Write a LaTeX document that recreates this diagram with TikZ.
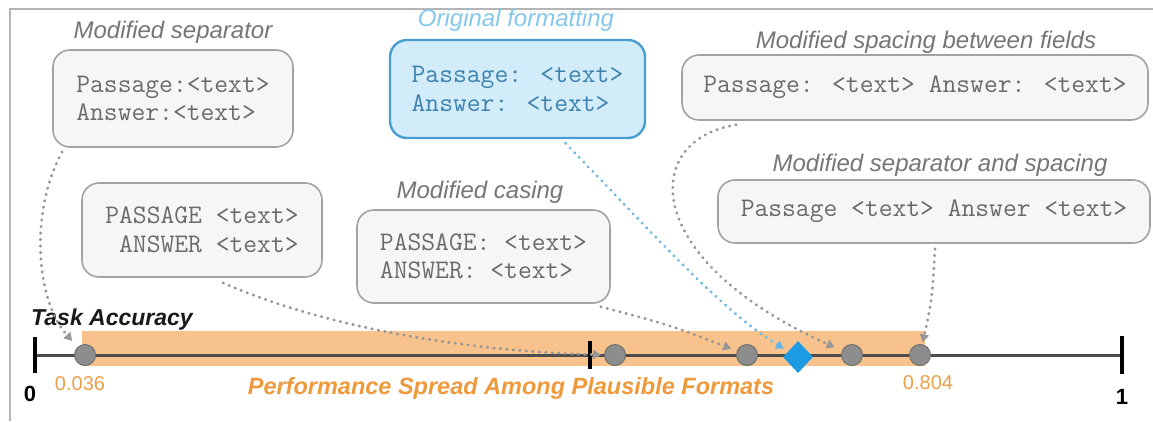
\documentclass[tikz,border=0pt]{standalone}
\usepackage{fontspec}
\setmainfont{Liberation Sans}
\usetikzlibrary{arrows.meta,shapes.geometric,calc}

\definecolor{boxfill}{HTML}{F6F6F7}
\definecolor{boxline}{HTML}{A3A3A3}
\definecolor{monotext}{HTML}{6A6A6A}
\definecolor{captext}{HTML}{767676}
\definecolor{origfill}{HTML}{D3ECF9}
\definecolor{origline}{HTML}{4A9DD0}
\definecolor{origtext}{HTML}{3D82AE}
\definecolor{origcap}{HTML}{86C8EC}
\definecolor{band}{HTML}{F7C28B}
\definecolor{orangetext}{HTML}{EBA04A}
\definecolor{orangelabel}{HTML}{EE9A3C}
\definecolor{dotgray}{HTML}{979797}
\definecolor{dotblue}{HTML}{6FB9E0}
\definecolor{pointfill}{HTML}{8D8D8D}
\definecolor{pointline}{HTML}{707070}
\definecolor{diamondblue}{HTML}{1C9BE2}
\definecolor{axisgray}{HTML}{4D4D4D}
\definecolor{framegray}{HTML}{B4B4B4}

\begin{document}
\begin{tikzpicture}[x=1pt,y=-1pt,
  fmtbox/.style={draw=boxline, line width=1.6pt, fill=boxfill, rounded corners=17pt,
    inner sep=0pt, font=\ttfamily\fontsize{26.8}{28.5}\selectfont, text=monotext, align=left},
  origstyle/.style={fmtbox, draw=origline, line width=2.4pt, fill=origfill, text=origtext},
  caption/.style={font=\itshape\fontsize{24}{28}\selectfont, text=captext, inner sep=0pt},
  pt/.style={circle, fill=pointfill, draw=pointline, line width=1pt, minimum size=21pt, inner sep=0pt},
  conn/.style={draw=dotgray, line width=2.9pt, line cap=round, dash pattern=on 0.5pt off 6pt,
    -{Triangle[length=8pt,width=9pt,fill=dotgray]}},
  connblue/.style={conn, draw=dotblue, -{Triangle[length=8pt,width=9pt,fill=diamondblue]}},
  tickmark/.style={draw=black, line width=3.5pt}
]
% canvas and frame
\fill[white] (0,0) rectangle (1153,421);
\useasboundingbox (0,0) rectangle (1153,421);
\draw[framegray, line width=1.5pt] (10,421) -- (10,9) -- (1153,9);

% format boxes and their captions
\node[fmtbox, minimum width=240pt, minimum height=97pt] (sepbox) at (173,98.5)
  {Passage:<text>\\Answer:<text>};
\node[caption] (sepcap) at (173,32) {Modified separator};

\node[origstyle, minimum width=255pt, minimum height=98pt] (origbox) at (517.5,89)
  {Passage: <text>\\Answer: <text>};
\node[caption, text=origcap] (origcap) at (516,20) {Original formatting};

\node[fmtbox, minimum width=466pt, minimum height=65pt] (spacebox) at (915,87.5)
  {Passage: <text> Answer: <text>};
\node[caption] (spacecap) at (926,42) {Modified spacing between fields};

\node[fmtbox, minimum width=432pt, minimum height=63pt] (sepspbox) at (934,211.5)
  {Passage <text> Answer <text>};
\node[caption] (sepspcap) at (940,165) {Modified separator and spacing};

\node[fmtbox, align=right, minimum width=240pt, minimum height=94pt] (capsbox) at (202,230)
  {PASSAGE <text>\\ANSWER <text>};

\node[fmtbox, minimum width=253pt, minimum height=93pt] (casebox) at (483.5,256.5)
  {PASSAGE: <text>\\ANSWER: <text>};
\node[caption] (casecap) at (480,192) {Modified casing};

% accuracy axis
\fill[band] (82,331) rectangle (925,366);
\draw[axisgray, line width=3pt] (35,355) -- (1122,355);
\draw[tickmark] (35,337) -- (35,373);
\draw[tickmark] (590,341) -- (590,369);
\draw[tickmark] (1122,336) -- (1122,374);

\node[pt] (p1) at (85,355) {};
\node[pt] (p2) at (615,355) {};
\node[pt] (p3) at (747,355) {};
\node[pt] (p4) at (852,355) {};
\node[pt] (p5) at (920,355) {};
\node[diamond, fill=diamondblue, minimum width=30pt, minimum height=32pt, inner sep=0pt] (d) at (798,357) {};

% axis texts
\node[font=\bfseries\itshape\fontsize{23}{27}\selectfont, text=black!90, inner sep=0pt] (acc) at (112,320) {Task Accuracy};
\node[font=\bfseries\fontsize{22}{26}\selectfont, inner sep=0pt] (zero) at (30,394) {0};
\node[font=\bfseries\fontsize{22}{26}\selectfont, inner sep=0pt] (one) at (1122,397) {1};
\node[font=\fontsize{20}{24}\selectfont, text=orangetext, inner sep=0pt] (lo) at (80,384) {0.036};
\node[font=\fontsize{20}{24}\selectfont, text=orangetext, inner sep=0pt] (hi) at (928,383) {0.804};
\node[font=\bfseries\itshape\fontsize{23.5}{28}\selectfont, text=orangelabel, inner sep=0pt] (spread) at (511,388)
  {Performance Spread Among Plausible Formats};

% dotted connectors from each format to its accuracy
\draw[conn, shorten >=8pt] ($(sepbox.south west)+(10,4)$) .. controls (30,210) and (35,300) .. (p1);
\draw[conn, shorten >=3pt] ($(capsbox.south)+(21,5)$) .. controls (330,330) and (480,352) .. (p2);
\draw[conn, shorten >=6pt] ($(casebox.south east)+(-10,3)$) .. controls (670,325) .. (p3);
\draw[connblue, shorten >=5pt] ($(origbox.south)+(48,4)$) .. controls (650,230) and (720,310) .. (d);
\draw[conn, shorten >=8pt] ($(spacebox.south west)+(55,4)$) .. controls (640,140) and (640,260) .. (p4);
\draw[conn, shorten >=2pt] ($(sepspbox.south)+(1,5)$) .. controls (932,300) .. (p5);
\end{tikzpicture}
\end{document}
